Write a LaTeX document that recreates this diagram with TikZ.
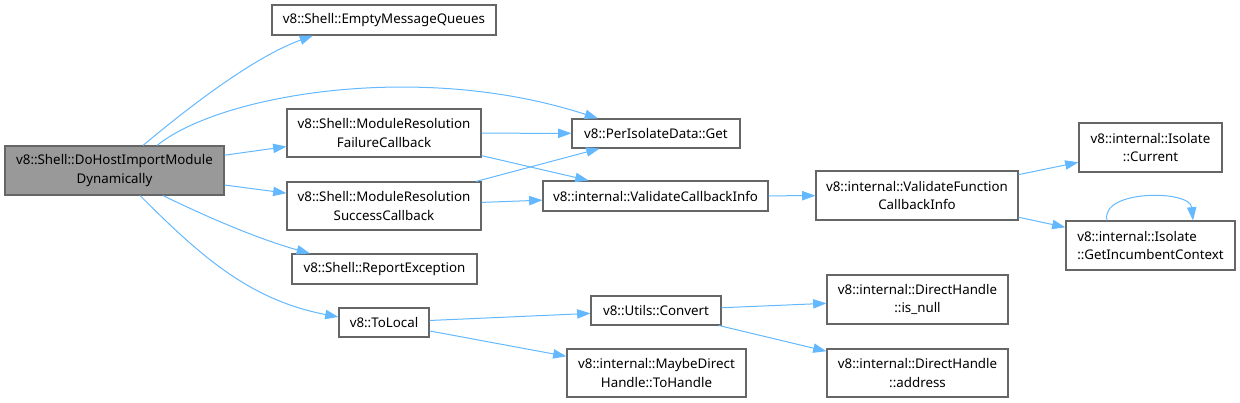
\documentclass[tikz,border=0pt]{standalone}
\usepackage{fontspec}
\setmainfont{Noto Sans}
\usetikzlibrary{arrows.meta}
\definecolor{edgec}{HTML}{63B8FF}
\definecolor{boxc}{HTML}{666666}
\definecolor{rootc}{HTML}{999999}
\begin{document}
\begin{tikzpicture}[x=0.75pt,y=-0.75pt,
  box/.style={draw=boxc, line width=0.8pt, fill=white, inner sep=0pt, align=center,
    font=\fontsize{10}{14}\selectfont, text=black},
  sz/.style 2 args={minimum width=#1*0.75pt, minimum height=#2*0.75pt},
  edge/.style={draw=edgec, line width=0.75pt, -{Triangle[length=10pt,width=7pt]}}]
\useasboundingbox (0,0) rectangle (1240,403);

\node[box, fill=rootc, sz={219}{49}] (root) at (114.5,170.5) {v8::Shell::DoHostImportModule\\Dynamically};
\node[box, sz={224}{30}] (emq) at (384,20) {v8::Shell::EmptyMessageQueues};
\node[box, sz={194}{48}] (fail) at (384,133) {v8::Shell::ModuleResolution\\FailureCallback};
\node[box, sz={194}{48}] (succ) at (384,206) {v8::Shell::ModuleResolution\\SuccessCallback};
\node[box, sz={185}{30}] (rep) at (384.5,269) {v8::Shell::ReportException};
\node[box, sz={90}{29}] (tol) at (384,322.5) {v8::ToLocal};
\node[box, sz={168}{29}] (get) at (656,133.5) {v8::PerIsolateData::Get};
\node[box, sz={225}{30}] (vci) at (655.5,196) {v8::internal::ValidateCallbackInfo};
\node[box, sz={202}{49}] (vfci) at (917,195.5) {v8::internal::ValidateFunction\\CallbackInfo};
\node[box, sz={143}{49}] (cur) at (1150.5,147.5) {v8::internal::Isolate\\::Current};
\node[box, sz={169}{49}, align=left] (gic) at (1150.5,245.5) {v8::internal::Isolate\\::GetIncumbentContext};
\node[box, sz={130}{29}] (conv) at (656,310.5) {v8::Utils::Convert};
\node[box, sz={179}{48}] (mdh) at (656.5,373) {v8::internal::MaybeDirect\\Handle::ToHandle};
\node[box, sz={181}{49}] (isnull) at (917.5,299.5) {v8::internal::DirectHandle\\::is\_null};
\node[box, sz={181}{48}] (addr) at (917.5,373) {v8::internal::DirectHandle\\::address};

% curved edges
\draw[edge] ([shift={(28.5,0)}]root.north) .. controls +(37,-31) and +(-63,23) .. ([shift={(-71,0)}]emq.south);
\draw[edge] ([shift={(42.5,0)}]root.north) .. controls +(63,-51) and +(-178,-58) .. ([shift={(-58,0)}]get.north);
\draw[edge] ([shift={(48.5,0)}]root.south) .. controls +(47,23) and +(-50,-14) .. ([shift={(-74.5,0)}]rep.north);
\draw[edge] ([shift={(25.5,0)}]root.south) .. controls +(60,60) and +(-89,-17) .. ([shift={(0,-5.5)}]tol.west);
\draw[edge] ([shift={(-43.5,0)}]gic.north) .. controls +(-7,-31) and +(-3,-31) .. ([shift={(42.5,0)}]gic.north);

% straight edges
\draw[edge] (root) -- (fail);
\draw[edge] (root) -- (succ);
\draw[edge] (fail) -- (get);
\draw[edge] (fail) -- (vci);
\draw[edge] (succ) -- (get);
\draw[edge] (succ) -- (vci);
\draw[edge] (vci) -- (vfci);
\draw[edge] (vfci) -- (cur);
\draw[edge] (vfci) -- (gic);
\draw[edge] (tol) -- (conv);
\draw[edge] (tol) -- (mdh);
\draw[edge] (conv) -- (isnull);
\draw[edge] (conv) -- (addr);
\end{tikzpicture}
\end{document}
